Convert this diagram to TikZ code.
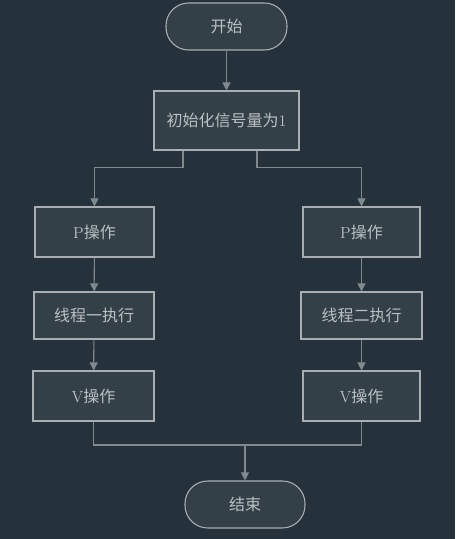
\documentclass[tikz,border=0pt]{standalone}
\usepackage{fontspec}
\newfontfamily\cjk{Noto Sans CJK SC}
\usetikzlibrary{arrows.meta}
\definecolor{bgcol}{RGB}{38,50,59}
\definecolor{boxcol}{RGB}{51,64,72}
\definecolor{edgecol}{RGB}{168,174,178}
\definecolor{linecol}{RGB}{128,137,142}
\definecolor{txtcol}{RGB}{186,192,195}

\begin{document}
\begin{tikzpicture}[x=0.75pt,y=0.75pt,>={Triangle[width=6pt,length=6pt]},
  box/.style={draw=edgecol,fill=boxcol,text=txtcol,line width=0.8pt,inner sep=0pt,
    font=\fontsize{12}{14}\selectfont},
  term/.style={box,rounded corners=17pt},
  flow/.style={->,draw=linecol,line width=0.8pt}]
  \fill[bgcol] (0,0) rectangle (455,539);
  % start and init
  \node[term,minimum width=90.75pt,minimum height=35.25pt] (start) at (226.5,512.5) {\cjk 开始};
  \node[box,minimum width=108.75pt,minimum height=44.25pt] (init) at (226.5,418.5) {\cjk 初始化信号量为\rmfamily 1};
  % left thread
  \node[box,minimum width=89.25pt,minimum height=37.5pt] (pl) at (94.5,307) {P\cjk 操作};
  \node[box,minimum width=90pt,minimum height=35.25pt] (tl) at (94,223.5) {\cjk 线程一执行};
  \node[box,minimum width=90.75pt,minimum height=37.5pt] (vl) at (93.5,143) {V\cjk 操作};
  % right thread
  \node[box,minimum width=87.75pt,minimum height=37.5pt] (pr) at (361.5,307) {P\cjk 操作};
  \node[box,minimum width=90.75pt,minimum height=35.25pt] (tr) at (361.5,223.5) {\cjk 线程二执行};
  \node[box,minimum width=87.75pt,minimum height=37.5pt] (vr) at (361.5,143) {V\cjk 操作};
  % end
  \node[term,minimum width=90pt,minimum height=35.25pt] (stop) at (245,34.5) {\cjk 结束};
  \coordinate (join) at (245,94);
  % connectors
  \draw[flow] (start) -- (init);
  \draw[flow] (init.south) ++(-43.5,0) -- ++(0,-17) -| (pl.north);
  \draw[flow] (init.south) ++(30.5,0) -- ++(0,-17) -| (pr.north);
  \draw[flow] (pl) -- (tl);
  \draw[flow] (tl) -- (vl);
  \draw[flow] (pr) -- (tr);
  \draw[flow] (tr) -- (vr);
  \draw[linecol,line width=0.8pt] (vl.south) |- (join) -| (vr.south);
  \draw[flow] (join) -- (stop);
\end{tikzpicture}
\end{document}
